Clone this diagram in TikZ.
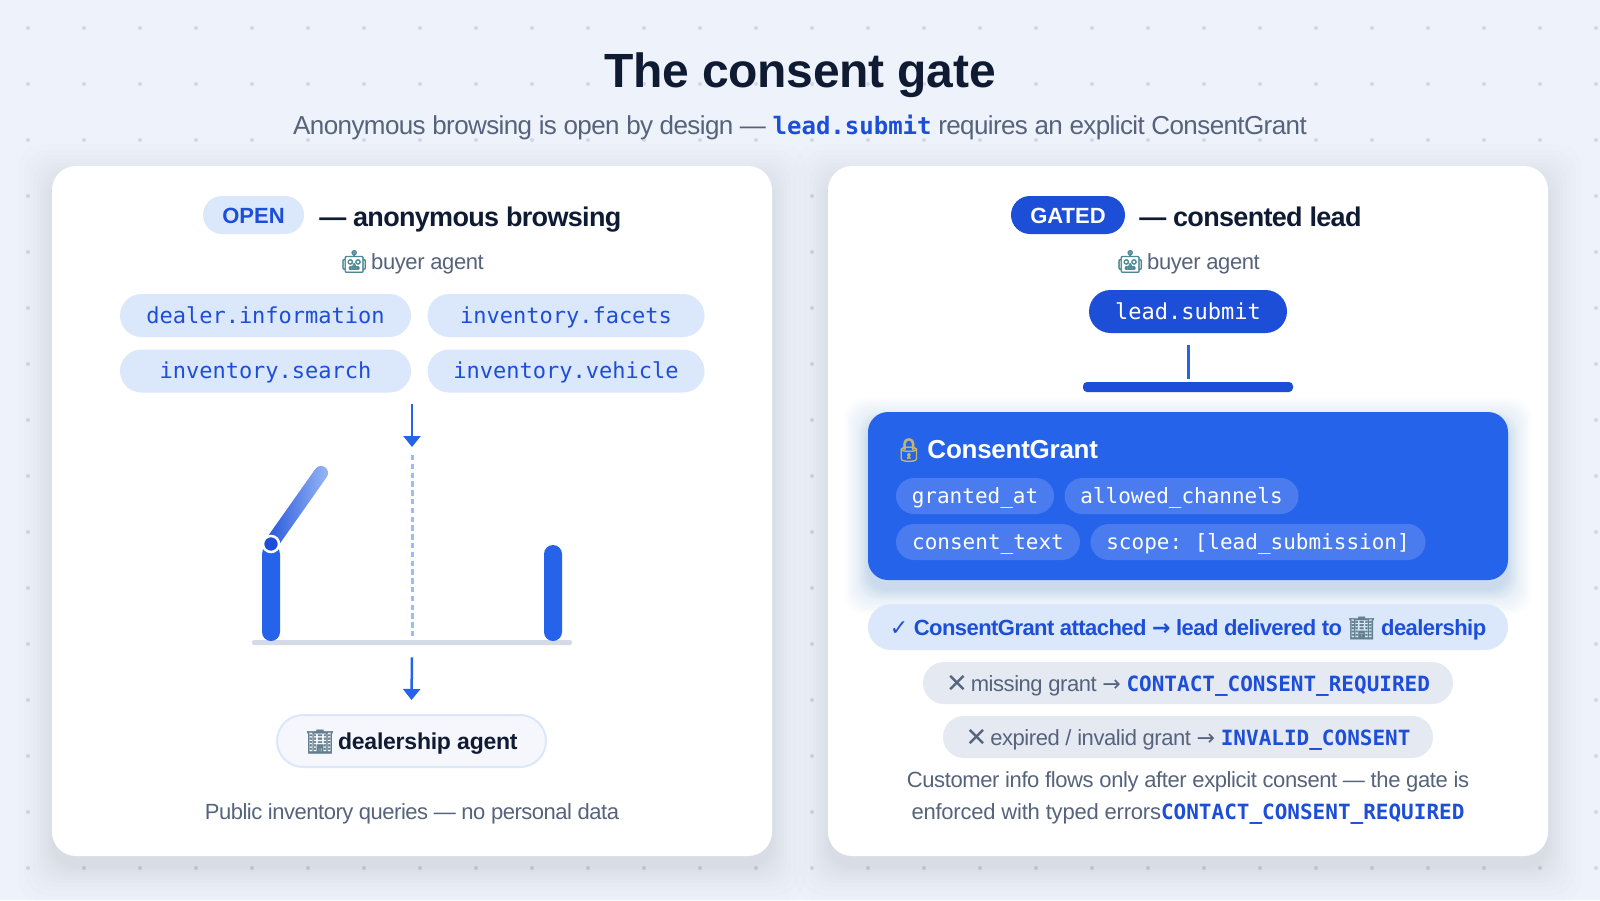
\documentclass[tikz,border=0pt]{standalone}
\usepackage{fontspec}
\setmainfont{Liberation Sans}
\setmonofont{DejaVu Sans Mono}
\newfontfamily\emojifont[FakeBold=2]{Noto Emoji}
\newfontfamily\symfont{DejaVu Sans}
\usetikzlibrary{arrows.meta,positioning}

\def\px{*0.75pt}
\newcommand{\fpx}[1]{\fontsize{\fpeval{#1*0.75}}{\fpeval{#1*0.9}}\selectfont}
\newcommand{\tight}[1]{\addfontfeature{LetterSpace=#1}}

\definecolor{pagebg}{HTML}{EEF2FA}
\definecolor{dotgray}{HTML}{D3D8E4}
\definecolor{ink}{HTML}{0F1B33}
\definecolor{slate}{HTML}{56637C}
\definecolor{gateblue}{HTML}{2563EB}
\definecolor{deepblue}{HTML}{1D4ED8}
\definecolor{paleblue}{HTML}{DBE7FB}
\definecolor{softblue}{HTML}{9DBBF6}
\definecolor{fieldblue}{HTML}{4A7CEF}
\definecolor{palegray}{HTML}{E5E9F2}
\definecolor{floorgray}{HTML}{D5DAE8}
\definecolor{robotcol}{HTML}{4E8894}
\definecolor{buildcol}{HTML}{64808F}
\definecolor{lockcol}{HTML}{C6B56A}

\newcommand{\robot}{{\emojifont\color{robotcol}\symbol{"1F916}}\hspace{-2pt}}
\newcommand{\building}{{\emojifont\color{buildcol}\symbol{"1F3E2}}}
\newcommand{\padlock}{{\emojifont\fpx{23}\color{lockcol}\symbol{"1F512}}\hspace{3pt}}
\newcommand{\errcode}[1]{{\ttfamily\bfseries\fpx{21}\color{deepblue}#1}}
\newcommand{\crossmark}{\raisebox{-1pt}{\symfont\fpx{26}✕}\hspace{-2pt}}
\newcommand{\toarrow}{{\symfont →}}

\begin{document}
\begin{tikzpicture}[
    x=0.75pt, y=-0.75pt,
    card/.style={fill=white, rounded corners=24\px, minimum width=720\px, minimum height=690\px},
    pill/.style={inner sep=0pt, minimum height=38\px, rounded corners=19\px, font=\fpx{22}\bfseries, text height=16\px, text depth=0\px},
    headtext/.style={anchor=base west, inner sep=0pt, font=\fpx{27}\bfseries\tight{-2.5}, text=ink},
    note/.style={anchor=base, inner sep=0pt, font=\fpx{22}\tight{-1.8}, text=slate, align=center},
    chip/.style={fill=paleblue, inner sep=0pt, minimum height=43\px, rounded corners=21.5\px, font=\ttfamily\fpx{22}, text=deepblue, text height=19\px, text depth=4\px},
    fieldchip/.style={fill=fieldblue, inner sep=0pt, minimum height=36\px, rounded corners=18\px, font=\ttfamily\fpx{21}, text=white, text height=18\px, text depth=4\px},
    errpill/.style={fill=palegray, inner sep=0pt, minimum height=42\px, rounded corners=21\px, font=\fpx{22}\tight{-2}, text=slate, text height=20\px, text depth=3\px},
    arrow/.style={-{Triangle[length=8.25pt,width=12.75pt]}, line width=2.5\px, gateblue},
    post/.style={fill=gateblue, inner sep=0pt, minimum width=18\px, minimum height=96\px, rounded corners=9\px}
]
\useasboundingbox (0,0) rectangle (1600,900);
\fill[pagebg] (0,0) rectangle (1600,900);

% Dot grid
\foreach \i in {0,...,28}
    \foreach \j in {0,...,15}
        \fill[dotgray] (28+56*\i,28+56*\j) circle (2\px);

% Card shadows
\foreach \a/\b in {52/772, 828/1548}
    \foreach \s in {34,28,23,19,15,12,9,6,4,2,0}
        \fill[ink, opacity=0.007, rounded corners=24\px] (\a-\s,166-\s+12) rectangle (\b+\s,856+\s+12);

% Title
\node[anchor=base, inner sep=0pt, font=\fpx{48}\bfseries\tight{-0.5}, text=ink] (title) at (800,87) {The consent gate};
\node[anchor=base, inner sep=0pt, font=\fpx{26}\tight{-2.3}, text=slate] (subtitle) at (800,134)
    {Anonymous browsing is open by design --- {\ttfamily\bfseries\fpx{24}\color{deepblue}lead.submit} requires an explicit ConsentGrant};

% Cards
\node[card] (opencard) at (412,511) {};
\node[card] (gatedcard) at (1188,511) {};

% Open side
\node[pill, fill=paleblue, text=deepblue, minimum width=101\px] (openbadge) at (253.5,215) {OPEN};
\node[headtext] (openhead) at (319,226) {--- anonymous browsing};
\node[note] (openbuyer) at (412,269) {\robot{} buyer agent};

\node[chip, minimum width=291\px] (dealerinfo) at (265.5,315.5) {dealer.information};
\node[chip, minimum width=277\px, right=16\px of dealerinfo] (facets) {inventory.facets};
\node[chip, minimum width=291\px, below=12\px of dealerinfo] (search) {inventory.search};
\node[chip, minimum width=277\px, below=12\px of facets] (vehicle) {inventory.vehicle};

% Open gate
\coordinate (inflow) at (412,404);
\coordinate (gatetop) at (412,447);
\coordinate (lanetop) at (412,455);
\node[fill=floorgray, inner sep=0pt, minimum width=320\px, minimum height=5\px, rounded corners=2\px] (floor) at (412,642.5) {};
\node[post] (leftpost) at (271,593) {};
\node[post] (rightpost) at (553,593) {};
\node[left color=deepblue, right color=softblue, inner sep=0pt, minimum width=101\px, minimum height=14\px, rounded corners=7\px, rotate=54.8] (gatearm) at (296,508.5) {};
\node[circle, fill=deepblue, draw=white, line width=2.5\px, inner sep=0pt, minimum size=16\px] (hinge) at (271,544) {};
\draw[softblue, line width=3\px, dash pattern=on 4pt off 2.6pt] (lanetop) -- (floor.north);
\draw[arrow] (inflow) -- (gatetop);

\node[fill=pagebg!60!white, draw=paleblue, line width=2\px, inner sep=0pt, minimum width=269\px, minimum height=52\px, rounded corners=26\px, font=\fpx{23}\bfseries\tight{-1}, text=ink, text height=17\px, text depth=0\px] (dealeragent) at (411.5,741) {\building\hspace{-2pt} dealership agent};
\draw[arrow] ([yshift=-12\px]floor.south) -- ([yshift=14\px]dealeragent.north);
\node[note, font=\fpx{22}\tight{-2.2}] (opennote) at (412,819) {Public inventory queries --- no personal data};

% Gated side
\node[pill, fill=deepblue, text=white, minimum width=114\px] (gatedbadge) at (1068,215) {GATED};
\node[headtext] (gatedhead) at (1139,226) {--- consented lead};
\node[note] (gatedbuyer) at (1188,269) {\robot{} buyer agent};

\node[chip, fill=deepblue, text=white, minimum width=198\px] (leadsubmit) at (1188,311.5) {lead.submit};
\node[fill=deepblue, inner sep=0pt, minimum width=210\px, minimum height=10\px, rounded corners=4\px] (closedbar) at (1188,387) {};
\draw[gateblue, line width=3\px] ([yshift=-12\px]leadsubmit.south) -- ([yshift=3\px]closedbar.north);

% Consent grant box
\foreach \s in {24,22,20,18,16,14,12,10,9,8,7,6,5,4,3,2,1,0}
    \fill[gateblue, opacity=0.012, rounded corners=20\px] (868-\s,412-\s+10) rectangle (1508+\s,580+\s+10);
\node[fill=gateblue, rounded corners=20\px, minimum width=640\px, minimum height=168\px] (grantbox) at (1188,496) {};
\node[anchor=base west, inner sep=0pt, font=\fpx{26}\bfseries\tight{-1}, text=white] (granttitle) at (894,458) {\padlock{}ConsentGrant};
\node[fieldchip, minimum width=158\px] (grantedat) at (975,496) {granted\_at};
\node[fieldchip, minimum width=234\px, right=10\px of grantedat] (channels) {allowed\_channels};
\node[fieldchip, minimum width=184\px] (consenttext) at (988,542) {consent\_text};
\node[fieldchip, minimum width=335\px, right=10\px of consenttext] (scope) {scope: [lead\_submission]};

% Outcomes
\node[fill=paleblue, inner sep=0pt, minimum width=640\px, minimum height=46\px, rounded corners=23\px, font=\fpx{22}\bfseries\tight{-2.5}, text=deepblue, text height=17\px, text depth=0\px] (delivered) at (1188,627)
    {{\symfont\bfseries ✓} ConsentGrant attached \toarrow{} lead delivered to \building{} dealership};
\node[errpill, minimum width=530\px] (missing) at (1188,683) {\crossmark{} missing grant \toarrow{} \errcode{CONTACT\_CONSENT\_REQUIRED}};
\node[errpill, minimum width=490\px] (invalid) at (1188,737) {\crossmark{} expired / invalid grant \toarrow{} \errcode{INVALID\_CONSENT}};
\node[note] (gatednote1) at (1188,787) {Customer info flows only after explicit consent --- the gate is};
\node[note, font=\fpx{22}\tight{-1}] (gatednote2) at (1188,819) {enforced with typed errors\errcode{CONTACT\_CONSENT\_REQUIRED}};
\end{tikzpicture}
\end{document}
